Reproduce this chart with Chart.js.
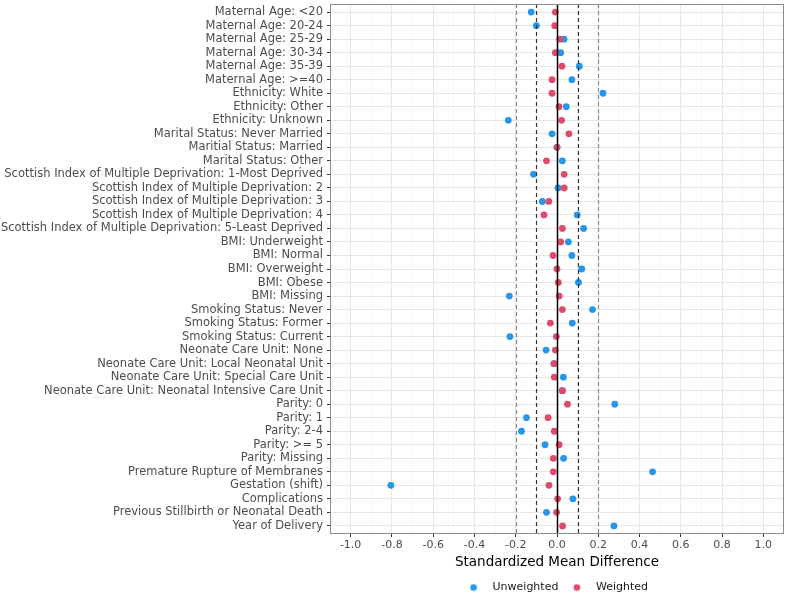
<!DOCTYPE html>
<html>
<head>
<meta charset="utf-8">
<script src="https://cdn.jsdelivr.net/npm/chart.js@4"></script>
<style>
  body { margin: 0; background: #fff; }
  #wrap { width: 788px; height: 595px; }
</style>
</head>
<body>
<div id="wrap"><canvas id="myChart"></canvas></div>
<script>
let covariates = [
    'Maternal Age: <20', 'Maternal Age: 20-24', 'Maternal Age: 25-29', 'Maternal Age: 30-34',
    'Maternal Age: 35-39', 'Maternal Age: >=40', 'Ethnicity: White', 'Ethnicity: Other',
    'Ethnicity: Unknown', 'Marital Status: Never Married', 'Maritial Status: Married',
    'Marital Status: Other', 'Scottish Index of Multiple Deprivation: 1-Most Deprived',
    'Scottish Index of Multiple Deprivation: 2', 'Scottish Index of Multiple Deprivation: 3',
    'Scottish Index of Multiple Deprivation: 4', 'Scottish Index of Multiple Deprivation: 5-Least Deprived',
    'BMI: Underweight', 'BMI: Normal', 'BMI: Overweight', 'BMI: Obese', 'BMI: Missing',
    'Smoking Status: Never', 'Smoking Status: Former', 'Smoking Status: Current',
    'Neonate Care Unit: None', 'Neonate Care Unit: Local Neonatal Unit',
    'Neonate Care Unit: Special Care Unit', 'Neonate Care Unit: Neonatal Intensive Care Unit',
    'Parity: 0', 'Parity: 1', 'Parity: 2-4', 'Parity: >= 5', 'Parity: Missing',
    'Premature Rupture of Membranes', 'Gestation (shift)', 'Complications',
    'Previous Stillbirth or Neonatal Death', 'Year of Delivery'
]

let unweighted = [
    -0.125, -0.10, 0.034, 0.018, 0.108, 0.072, 0.223, 0.045, -0.236, -0.024,
    0.0, 0.026, -0.114, 0.005, -0.071, 0.098, 0.129,
    0.055, 0.072, 0.12, 0.104, -0.231,
    0.172, 0.074, -0.228,
    -0.053, -0.015, 0.031, 0.025,
    0.28, -0.148, -0.172, -0.058, 0.032,
    0.463, -0.805, 0.077, -0.051, 0.276
]

let weighted = [
    -0.008, -0.011, 0.013, -0.008, 0.024, -0.024, -0.024, 0.01, 0.022, 0.058,
    0.0, -0.051, 0.035, 0.035, -0.04, -0.063, 0.026,
    0.018, -0.019, 0.0, 0.006, 0.011,
    0.026, -0.032, -0.003,
    -0.008, -0.014, -0.013, 0.027,
    0.051, -0.043, -0.013, 0.01, -0.018,
    -0.018, -0.039, 0.003, -0.002, 0.027
]

let xTicks = [-1.0, -0.9, -0.8, -0.7, -0.6, -0.5, -0.4, -0.3, -0.2, -0.1, 0.0,
    0.1, 0.2, 0.3, 0.4, 0.5, 0.6, 0.7, 0.8, 0.9, 1.0]

let blue = '#2596ea'
let red = '#e04a6a'

// threshold lines
let refLines = [
    { x: -0.2, color: '#8a8a8a', dash: [4, 3] },
    { x: 0.2, color: '#8a8a8a', dash: [4, 3] },
    { x: -0.1, color: '#333333', dash: [4, 3] },
    { x: 0.1, color: '#333333', dash: [4, 3] },
    { x: 0.0, color: '#000000', dash: [] }
]

let isMajor = v => Math.round(v * 10) % 2 === 0

// small dot used as legend marker
function dot(color) {
    let cv = document.createElement('canvas')
    cv.width = 8
    cv.height = 8
    let g = cv.getContext('2d')
    g.fillStyle = color
    g.beginPath()
    g.arc(4, 4, 3.3, 0, Math.PI * 2)
    g.fill()
    return cv
}

let refPlugin = {
    id: 'refLines',
    afterLayout(chart) {
        // center legend under the panel, like ggplot
        let lg = chart.legend
        lg.left = chart.chartArea.left - 3
        lg.right = chart.chartArea.right - 3
        lg.width = lg.right - lg.left
        lg.top += 6
        lg.bottom += 6
    },
    afterDatasetsDraw(chart) {
        let c = chart.ctx
        let area = chart.chartArea
        let xs = chart.scales.x
        c.save()
        refLines.forEach(r => {
            let px = Math.round(xs.getPixelForValue(r.x)) + 0.5
            c.beginPath()
            c.strokeStyle = r.color
            c.lineWidth = r.dash.length ? 1.2 : 1.5
            c.setLineDash(r.dash)
            c.moveTo(px, area.top)
            c.lineTo(px, area.bottom)
            c.stroke()
        })
        c.setLineDash([])
        c.strokeStyle = '#8c8c8c'
        c.lineWidth = 1
        c.strokeRect(area.left + 0.5, area.top + 0.5, area.right - area.left - 1, area.bottom - area.top - 1)
        c.restore()
    }
}

let ctx = document.querySelector('#myChart')

let graphData = {
    type: 'scatter',
    data: {
        datasets: [{
            label: 'Unweighted',
            data: unweighted.map((v, i) => ({ x: v, y: i })),
            backgroundColor: blue,
            borderColor: blue,
            pointRadius: 3.4,
            borderWidth: 0,
            order: 1
        }, {
            label: 'Weighted',
            data: weighted.map((v, i) => ({ x: v, y: i })),
            backgroundColor: red,
            borderColor: red,
            pointRadius: 3.4,
            borderWidth: 0,
            order: 0
        }]
    },
    options: {
        responsive: true,
        maintainAspectRatio: false,
        animation: false,
        layout: { padding: { top: 1, right: 2, left: 0, bottom: 0 } },
        plugins: {
            tooltip: { enabled: false },
            legend: {
                position: 'bottom',
                maxHeight: 24,
                labels: {
                    usePointStyle: true,
                    pointStyleWidth: 27,
                    boxHeight: 8,
                    padding: 5,
                    color: '#1a1a1a',
                    font: { family: 'DejaVu Sans', size: 11 },
                    generateLabels: chart => chart.data.datasets.map((ds, i) => ({
                        text: ds.label,
                        datasetIndex: i,
                        fillStyle: ds.backgroundColor,
                        strokeStyle: ds.backgroundColor,
                        lineWidth: 0,
                        fontColor: '#1a1a1a',
                        pointStyle: dot(ds.backgroundColor),
                        hidden: false
                    }))
                }
            }
        },
        scales: {
            x: {
                type: 'linear',
                min: -1.1,
                max: 1.1,
                afterBuildTicks: s => { s.ticks = xTicks.map(v => ({ value: v })) },
                afterFit: s => { s.height = 37; s.paddingLeft = 0; s.paddingRight = 0 },
                ticks: {
                    autoSkip: false,
                    maxRotation: 0,
                    padding: 2,
                    color: '#4d4d4d',
                    font: { family: 'DejaVu Sans', size: 11 },
                    callback: v => isMajor(v) ? v.toFixed(1) : ''
                },
                grid: {
                    color: c => isMajor(c.tick.value) ? '#e6e6e6' : '#f2f2f2',
                    lineWidth: c => isMajor(c.tick.value) ? 1 : 0.6,
                    tickColor: c => isMajor(c.tick.value) ? '#333333' : 'rgba(0,0,0,0)',
                    tickLength: 3
                },
                border: { display: false },
                title: {
                    display: true,
                    text: 'Standardized Mean Difference',
                    color: '#000000',
                    padding: { top: 0, bottom: 0 },
                    font: { family: 'DejaVu Sans', size: 13.5 }
                }
            },
            y: {
                type: 'linear',
                min: -0.6,
                max: 38.6,
                reverse: true,
                afterBuildTicks: s => { s.ticks = covariates.map((_, i) => ({ value: i })) },
                afterFit: s => { s.width = 330; s.paddingTop = 0; s.paddingBottom = 0 },
                ticks: {
                    autoSkip: false,
                    padding: 4,
                    color: '#4d4d4d',
                    font: { family: 'DejaVu Sans', size: 11.5 },
                    callback: v => covariates[v]
                },
                grid: {
                    color: '#e6e6e6',
                    tickColor: '#333333',
                    tickLength: 3
                },
                border: { display: false }
            }
        }
    },
    plugins: [refPlugin]
}

let myChart = new Chart(ctx, graphData)
</script>
</body>
</html>
